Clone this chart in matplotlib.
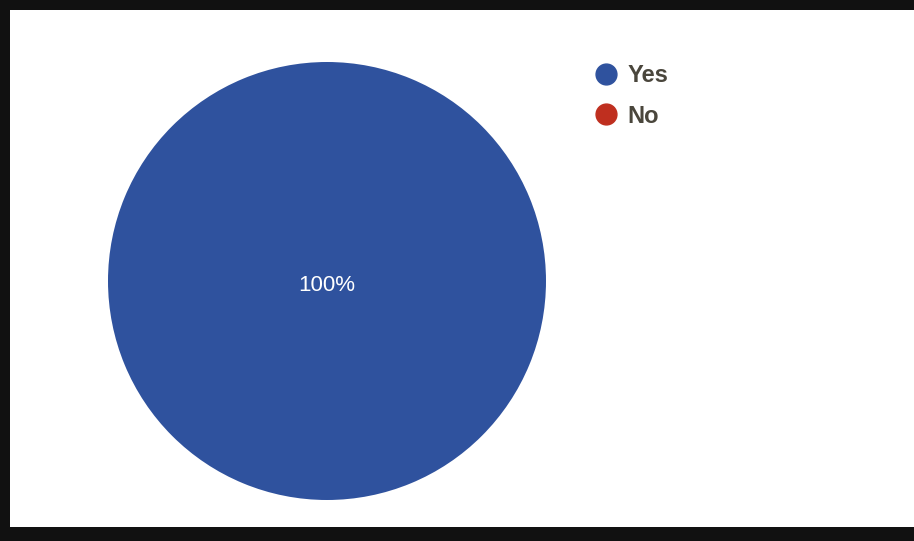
import matplotlib
matplotlib.use("Agg")
import matplotlib.pyplot as plt
from matplotlib.lines import Line2D
from matplotlib.patches import Rectangle

labels = ["Yes", "No"]
values = [100, 0]
colors = ["#2f529e", "#bf2f1f"]

plt.rcParams["font.family"] = ["Liberation Sans", "DejaVu Sans"]

fig = plt.figure(figsize=(9.14, 5.41), dpi=100)
fig.patch.set_facecolor("white")

# scanned frame edges
for x, y, w, h in [(0, 0, 1, 14 / 541), (0, 531 / 541, 1, 10 / 541), (0, 0, 10 / 914, 1)]:
    fig.patches.append(Rectangle((x, y), w, h, transform=fig.transFigure,
                                 facecolor="#111111", edgecolor="none", zorder=0))

ax = fig.add_axes([108 / 914, 41 / 541, 438 / 914, 438 / 541])
wedges, texts = ax.pie([v for v in values if v > 0],
                       colors=[c for c, v in zip(colors, values) if v > 0],
                       startangle=90, counterclock=False,
                       wedgeprops={"linewidth": 0})
ax.set_xlim(-1, 1)
ax.set_ylim(-1, 1)
ax.text(0, -0.02, f"{values[0]}%", ha="center", va="center",
        color="white", fontsize=16)
ax.set_aspect("equal")

handles = [Line2D([], [], marker="o", linestyle="none", markersize=15,
                  markerfacecolor=c, markeredgecolor=c) for c in colors]
fig.legend(handles, labels, loc="upper left", bbox_to_anchor=(0.614, 0.921),
           frameon=False, handletextpad=-0.1, labelspacing=0.75,
           prop={"size": 17, "weight": "bold"}, labelcolor="#4a463c")

fig.savefig("out.png", dpi=100)
